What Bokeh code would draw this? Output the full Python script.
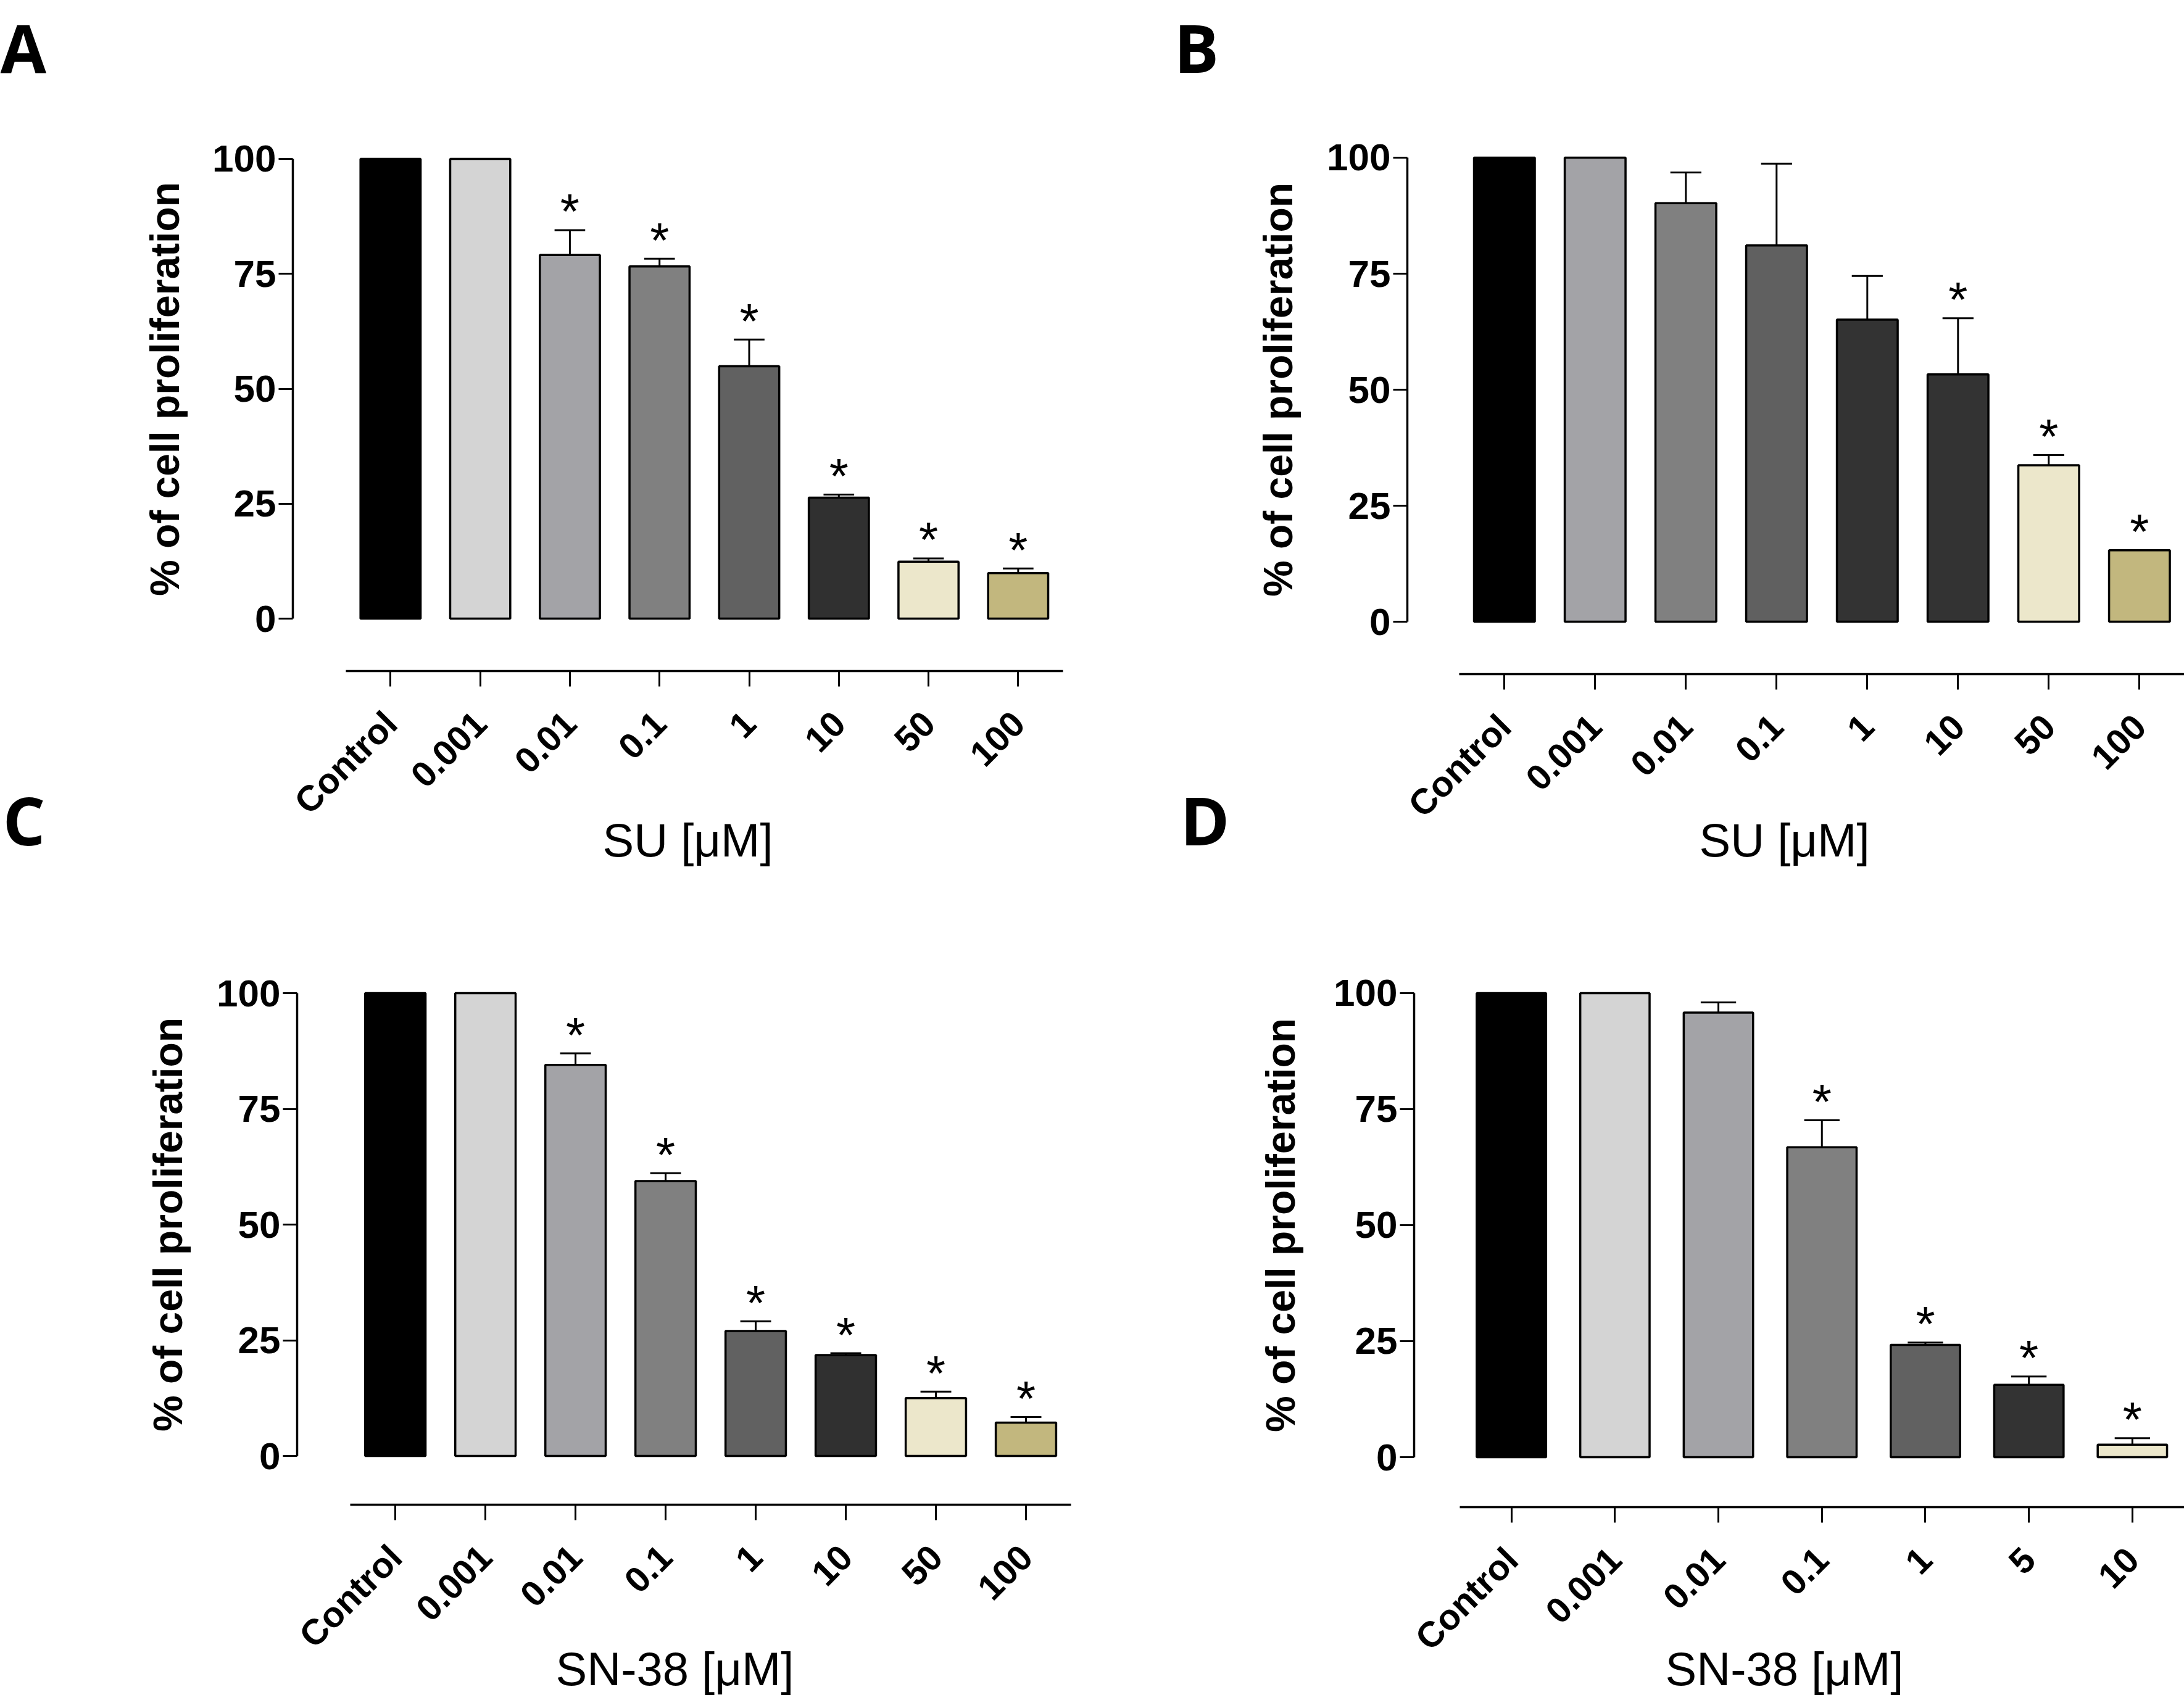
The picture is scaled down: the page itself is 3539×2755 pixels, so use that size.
import math
from bokeh.plotting import figure
from bokeh.models import Range1d, FixedTicker, ColumnDataSource, Whisker, TeeHead, Label
from bokeh.layouts import column, row
from bokeh.embed import file_html
from bokeh.resources import INLINE
from bokeh.core.properties import value

# ---------------- data ----------------
su_doses = ["Control", "0.001", "0.01", "0.1", "1", "10", "50", "100"]
sn38_doses_c = ["Control", "0.001", "0.01", "0.1", "1", "10", "50", "100"]
sn38_doses_d = ["Control", "0.001", "0.01", "0.1", "1", "5", "10"]

a_mean = [100, 100, 79.1, 76.6, 54.9, 26.3, 12.4, 9.9]
a_err = [0, 0, 5.4, 1.7, 5.8, 0.7, 0.7, 1.0]
a_sig = [False, False, True, True, True, True, True, True]

b_mean = [100, 100, 90.2, 81.1, 65.1, 53.3, 33.7, 15.4]
b_err = [0, 0, 6.6, 17.6, 9.4, 12.1, 2.2, 0]
b_sig = [False, False, False, False, False, True, True, True]

c_mean = [100, 100, 84.5, 59.4, 27.0, 21.8, 12.5, 7.2]
c_err = [0, 0, 2.5, 1.7, 2.1, 0.4, 1.4, 1.2]
c_sig = [False, False, True, True, True, True, True, True]

d_mean = [100, 100, 95.8, 66.8, 24.2, 15.6, 2.7]
d_err = [0, 0, 2.2, 5.8, 0.5, 1.8, 1.4]
d_sig = [False, False, False, True, True, True, True]

colors_a = ["#000000", "#d4d4d4", "#a3a3a7", "#808080", "#616161", "#303030", "#ece7cb", "#c2b77e"]
colors_b = ["#000000", "#a3a3a7", "#808080", "#606060", "#333333", "#333333", "#ece7cb", "#c2b77e"]
colors_c = ["#000000", "#d4d4d4", "#a3a3a7", "#808080", "#616161", "#303030", "#ece7cb", "#c2b77e"]
colors_d = ["#000000", "#d4d4d4", "#a3a3a7", "#808080", "#616161", "#333333", "#ece7cb"]

y_ticks = [0, 25, 50, 75, 100]
y_title = "% of cell proliferation"
su_title = "SU [\u03bcM]"
sn_title = "SN-38 [\u03bcM]"

# ---------------- layout geometry (page pixels) ----------------
# canvas: page box of the figure; ax: pixel positions of the axes; xr/yr: data values there
GEOM = {
    "A": dict(canvas=(0, 0, 1790, 1425), ax_x=(474, 1722), ax_y=(249, 1087), xr=(-1.09, 7.5), yr=(101.07, -11.4)),
    "B": dict(canvas=(1790, 0, 3539, 1425), ax_x=(2280, 3531), ax_y=(248, 1092), xr=(-1.07, 7.44), yr=(100.93, -11.3)),
    "C": dict(canvas=(0, 1425, 1790, 2755), ax_x=(481, 1735), ax_y=(1600, 2438), xr=(-1.09, 7.5), yr=(101.2, -10.53)),
    "D": dict(canvas=(1790, 1425, 3539, 2755), ax_x=(2291, 3531), ax_y=(1604, 2442), xr=(-0.94, 6.454), yr=(100.66, -10.77)),
}


def to_data(g, px, py):
    x0, x1 = g["ax_x"]
    y0, y1 = g["ax_y"]
    xa, xb = g["xr"]
    ya, yb = g["yr"]
    dx = xa + (px - x0) * (xb - xa) / (x1 - x0)
    dy = ya + (py - y0) * (yb - ya) / (y1 - y0)
    return dx, dy


def make_panel(key, cats, means, errs, sig, colors, xlabel, xtitle_pos, ytitle_pos, letters):
    g = GEOM[key]
    cx0, cy0, cx1, cy1 = g["canvas"]
    left, top = to_data(g, cx0, cy0)
    right, bottom = to_data(g, cx1, cy1)
    p = figure(width=cx1 - cx0, height=cy1 - cy0, title=None,
               min_border_left=0, min_border_right=0, min_border_top=0, min_border_bottom=0,
               x_range=Range1d(left, right), y_range=Range1d(bottom, top),
               output_backend="svg", toolbar_location=None,
               background_fill_color="white", border_fill_color="white",
               outline_line_color=None)
    p.grid.visible = False

    n = len(cats)
    xs = list(range(n))
    src = ColumnDataSource(dict(x=xs, top=means, color=colors))
    bar_w = 0.67
    p.vbar(x="x", top="top", bottom=0, width=bar_w, fill_color="color",
           line_color="black", line_width=3.5, source=src)

    ppx = (g["ax_x"][1] - g["ax_x"][0]) / (g["xr"][1] - g["xr"][0])
    cap = 0.51 * bar_w * ppx
    ex = [i for i in xs if errs[i] > 0]
    esrc = ColumnDataSource(dict(x=ex, lower=[means[i] for i in ex],
                                 upper=[means[i] + errs[i] for i in ex]))
    wh = Whisker(base="x", lower="lower", upper="upper", source=esrc, dimension="height",
                 line_color="black", line_width=3, lower_head=None,
                 upper_head=TeeHead(size=cap, line_width=3, line_color="black"),
                 level="annotation")
    p.add_layout(wh)

    sx = [i for i in xs if sig[i]]
    sy = [means[i] + errs[i] for i in sx]
    p.text(x=sx, y=sy, text=["*"] * len(sx), text_align="center", text_baseline="alphabetic",
           y_offset=-30, text_font=value("Liberation Sans"), text_font_size="80px", text_color="black")

    # x axis
    xa = p.xaxis[0]
    xa.fixed_location = g["yr"][1]
    xa.ticker = FixedTicker(ticks=xs)
    xa.major_label_overrides = {i: c for i, c in enumerate(cats)}
    xa.bounds = (-0.5, min(n - 0.5, right))
    xa.axis_line_width = 3.5
    xa.axis_line_color = "black"
    xa.major_tick_line_width = 3
    xa.major_tick_line_color = "black"
    xa.major_tick_out = 25
    xa.major_tick_in = 0
    xa.minor_tick_line_color = None
    xa.major_label_orientation = math.pi / 4
    xa.major_label_text_font = "Liberation Sans"
    xa.major_label_text_font_style = "bold"
    xa.major_label_text_font_size = "58px"
    xa.major_label_text_color = "black"
    xa.major_label_standoff = 50

    # y axis
    ya = p.yaxis[0]
    ya.fixed_location = g["xr"][0]
    ya.ticker = FixedTicker(ticks=y_ticks)
    ya.bounds = (0, 100)
    ya.axis_line_width = 3.5
    ya.axis_line_color = "black"
    ya.major_tick_line_width = 3
    ya.major_tick_line_color = "black"
    ya.major_tick_out = 23
    ya.major_tick_in = 0
    ya.minor_tick_line_color = None
    ya.major_label_text_font = "Liberation Sans"
    ya.major_label_text_font_style = "bold"
    ya.major_label_text_font_size = "62px"
    ya.major_label_text_color = "black"
    ya.major_label_standoff = 4

    tx, ty = to_data(g, *ytitle_pos)
    p.add_layout(Label(x=tx, y=ty, text=y_title, angle=math.pi / 2, text_align="center",
                       text_baseline="middle", text_font="Liberation Sans", text_font_style="bold",
                       text_font_size="66px", text_color="black"))
    tx, ty = to_data(g, *xtitle_pos)
    p.add_layout(Label(x=tx, y=ty, text=xlabel, text_align="center",
                       text_baseline="middle", text_font="Liberation Sans", text_font_style="normal",
                       text_font_size="76px", text_color="black"))

    for (txt, px, py) in letters:
        lx, ly = to_data(g, px, py)
        p.add_layout(Label(x=lx, y=ly, text=txt, text_align="left", text_baseline="alphabetic",
                           text_font="Open Sans", text_font_style="bold", text_font_size="108px",
                           text_color="black"))
    return p


pA = make_panel("A", su_doses, a_mean, a_err, a_sig, colors_a, su_title, (1114, 1361), (266, 630),
                [("A", 0, 76), ("C", 4, 1328)])
pB = make_panel("B", su_doses, b_mean, b_err, b_sig, colors_b, su_title, (2891, 1361), (2070, 631),
                [("B", 1902, 76), ("D", 1912, 1328)])
pC = make_panel("C", sn38_doses_c, c_mean, c_err, c_sig, colors_c, sn_title, (1093, 2704), (271, 1984), [])
pD = make_panel("D", sn38_doses_d, d_mean, d_err, d_sig, colors_d, sn_title, (2891, 2704), (2074, 1985), [])

layout = column(row(pA, pB), row(pC, pD))
open("out.html", "w").write(file_html(layout, INLINE))
